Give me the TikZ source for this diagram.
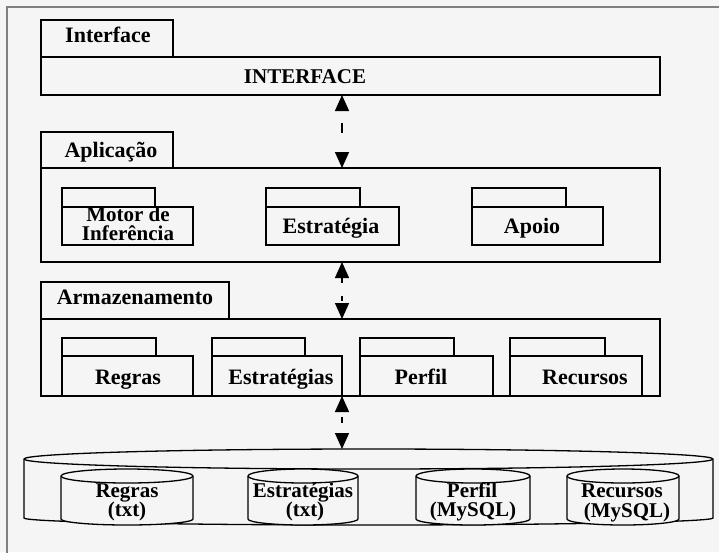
\documentclass[tikz,border=0pt]{standalone}
\usepackage{fontspec}
\setmainfont{Liberation Serif}
\usetikzlibrary{arrows.meta,fit}
\definecolor{bg}{HTML}{F5F5F5}
\definecolor{framegray}{HTML}{808080}

% drum: #1 name, #2 left x, #3 right x, #4 top y, #5 bottom y, #6 top radius, #7 bottom radius
\newcommand\drawdrum[7]{%
  \pgfmathsetmacro\drumcx{(#2+#3)/2}%
  \pgfmathsetmacro\drumrx{(#3-#2)/2}%
  \filldraw[drumline, fill=bg] (#2,#4) -- (#2,#5)
    arc[start angle=180, end angle=0, x radius=\drumrx, y radius=#7] -- (#3,#4)
    arc[start angle=0, end angle=-180, x radius=\drumrx, y radius=#6] -- cycle;
  \draw[drumline] (#2,#4) arc[start angle=180, end angle=0, x radius=\drumrx, y radius=#6];
  \coordinate (#1) at (\drumcx,#4);
}

\begin{document}
\begin{tikzpicture}[x=1pt, y=-1pt,
  pkgline/.style={draw=black, line width=1.4pt, inner sep=0pt, outer sep=0pt},
  drumline/.style={draw=black, line width=1.3pt},
  lbl/.style={inner sep=0pt, anchor=base, font=\fontsize{22}{22}\selectfont\bfseries},
  lbltwo/.style={lbl, font=\fontsize{21}{21}\selectfont\bfseries},
  link/.style={line width=1.4pt, {Triangle[width=14pt,length=16pt]}-{Triangle[width=14pt,length=16pt]}},
]
\useasboundingbox (0,0) rectangle (719,552);
\fill[bg] (0,0) rectangle (719,552);
\clip (0,0) rectangle (719,552);
\draw[framegray, line width=2pt] (7,560) -- (7,7) -- (730,7);

% ---- Interface layer
\node[pkgline, fit={(41,20) (173,57)}] (iftab) {};
\node[lbl] (iftxt) at (108,42) {Interface};
\node[pkgline, fit={(41,57) (660,95)}] (ifbox) {};
\node[lbl, font=\fontsize{21}{21}\selectfont\bfseries] (iftitle) at (305,83) {INTERFACE};

% ---- Application layer
\node[pkgline, fit={(41,132) (173,168)}] (apptab) {};
\node[lbl] (apptxt) at (111,157) {Aplicação};
\node[pkgline, fit={(41,168) (660,262)}] (appbox) {};

\node[pkgline, fit={(62,188) (155,207)}] (motortab) {};
\node[pkgline, fit={(62,207) (193,245)}] (motorbox) {};
\node[lbltwo] (motor1) at (128,221) {Motor de};
\node[lbltwo] (motor2) at (128,240) {Inferência};

\node[pkgline, fit={(266,188) (360,207)}] (estrtab) {};
\node[pkgline, fit={(266,207) (399,245)}] (estrbox) {};
\node[lbl] (estrtxt) at (331,233) {Estratégia};

\node[pkgline, fit={(472,188) (566,207)}] (apoiotab) {};
\node[pkgline, fit={(472,207) (603,245)}] (apoiobox) {};
\node[lbl] (apoiotxt) at (532,233) {Apoio};

% ---- Storage layer
\node[pkgline, fit={(41,282) (229,319)}] (armtab) {};
\node[lbl] (armtxt) at (135,304) {Armazenamento};
\node[pkgline, fit={(41,319) (660,396)}] (armbox) {};

\node[pkgline, fit={(62,338) (156,356)}] (regtab) {};
\node[pkgline, fit={(62,356) (193,396)}] (regbox) {};
\node[lbl] (regtxt) at (128,384) {Regras};

\node[pkgline, fit={(212,338) (305,356)}] (estsTab) {};
\node[pkgline, fit={(212,356) (342,396)}] (estsbox) {};
\node[lbl] (eststxt) at (281,384) {Estratégias};

\node[pkgline, fit={(360,338) (454,356)}] (perftab) {};
\node[pkgline, fit={(360,356) (493,396)}] (perfbox) {};
\node[lbl] (perftxt) at (421,384) {Perfil};

\node[pkgline, fit={(510,338) (605,356)}] (rectab) {};
\node[pkgline, fit={(510,356) (642,396)}] (recbox) {};
\node[lbl] (rectxt) at (585,384) {Recursos};

% ---- Database
\drawdrum{db}{24}{713}{459}{518}{10}{7}
\coordinate (db-top) at (342,449);

\drawdrum{dbreg}{61}{193}{476}{519}{7}{6}
\node[lbltwo] (dbreg1) at (127,497) {Regras};
\node[lbltwo] (dbreg2) at (127,516) {(txt)};

\drawdrum{dbest}{248}{358}{476}{519}{7}{6}
\node[lbltwo] (dbest1) at (303,497) {Estratégias};
\node[lbltwo] (dbest2) at (305,516) {(txt)};

\drawdrum{dbperf}{416}{530}{476}{519}{7}{6}
\node[lbltwo] (dbperf1) at (472,497) {Perfil};
\node[lbltwo] (dbperf2) at (473,516) {(MySQL)};

\drawdrum{dbrec}{567}{679}{476}{519}{7}{6}
\node[lbltwo] (dbrec1) at (622,497) {Recursos};
\node[lbltwo] (dbrec2) at (627,517) {(MySQL)};

% ---- Links between layers
\coordinate (ax) at (342,0);
\draw[link, dash pattern=on 10pt off 31pt, dash phase=29pt]
  (ifbox.south -| ax) -- (appbox.north -| ax);
\draw[link, dash pattern=on 5pt off 13pt]
  (appbox.south -| ax) -- (armbox.north -| ax);
\draw[link, dash pattern=on 6pt off 15pt, dash phase=16pt]
  (armbox.south -| ax) -- (db-top);
\end{tikzpicture}
\end{document}
